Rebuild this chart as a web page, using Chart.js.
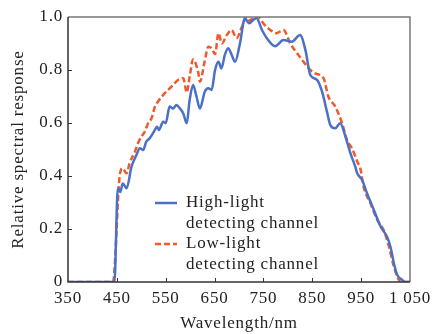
<!DOCTYPE html>
<html>
<head>
<meta charset="utf-8">
<script src="https://cdn.jsdelivr.net/npm/chart.js@4.4.0/dist/chart.umd.min.js"></script>
<style>
    html, body { margin: 0; padding: 0; background: #fff; }
    #spectrum { display: block; }
</style>
</head>
<body>
<canvas id="spectrum" width="438" height="334"></canvas>
<script>
// =========================
// Data
// =========================

const seriesNames = ["High-light\ndetecting channel", "Low-light\ndetecting channel"];

const highWavelength = [350, 441, 445, 452, 457, 462, 470, 480, 490, 497, 504, 510, 517, 528, 532, 536, 545, 550, 558, 565, 572, 579, 586, 593, 599, 606, 613, 620, 630, 637, 644, 651, 658, 664, 671, 678, 685, 692, 702, 712, 721, 729, 736, 747, 757, 774, 791, 808, 825, 836, 846, 860, 870, 880, 887, 897, 907, 918, 928, 938, 942, 952, 962, 976, 990, 1003, 1010, 1017, 1024, 1034, 1040, 1050];
const highResponse = [0, 0, 0, 0.354, 0.34, 0.372, 0.354, 0.435, 0.479, 0.505, 0.498, 0.529, 0.542, 0.574, 0.586, 0.574, 0.605, 0.599, 0.662, 0.655, 0.668, 0.655, 0.636, 0.599, 0.687, 0.743, 0.70, 0.655, 0.718, 0.731, 0.725, 0.80, 0.831, 0.806, 0.857, 0.882, 0.857, 0.831, 0.90, 0.995, 0.976, 0.989, 0.995, 0.951, 0.92, 0.89, 0.913, 0.907, 0.932, 0.875, 0.781, 0.762, 0.718, 0.643, 0.592, 0.58, 0.599, 0.548, 0.486, 0.435, 0.41, 0.385, 0.335, 0.272, 0.209, 0.171, 0.133, 0.071, 0.026, 0.008, 0, 0];

const lowWavelength = [350, 442, 456, 462, 470, 476, 487, 493, 500, 507, 514, 521, 528, 534, 545, 555, 565, 575, 586, 593, 599, 606, 617, 620, 630, 637, 644, 651, 658, 665, 675, 685, 695, 706, 716, 723, 729, 740, 750, 764, 777, 791, 805, 819, 832, 846, 856, 873, 883, 897, 911, 921, 931, 942, 949, 955, 969, 983, 996, 1007, 1017, 1024, 1031, 1050];
const lowResponse = [0, 0, 0.404, 0.429, 0.41, 0.448, 0.492, 0.523, 0.548, 0.567, 0.599, 0.618, 0.662, 0.68, 0.706, 0.725, 0.743, 0.762, 0.769, 0.715, 0.775, 0.84, 0.787, 0.756, 0.835, 0.888, 0.882, 0.86, 0.939, 0.9, 0.932, 0.951, 0.92, 0.963, 1.0, 0.985, 1.0, 1.0, 0.975, 0.951, 0.939, 0.951, 0.9, 0.863, 0.831, 0.8, 0.787, 0.769, 0.699, 0.662, 0.599, 0.536, 0.505, 0.455, 0.423, 0.36, 0.297, 0.234, 0.196, 0.133, 0.058, 0.02, 0, 0];

const xTicks = [350, 450, 550, 650, 750, 850, 950, 1050];
const yTicks = [0, 0.2, 0.4, 0.6, 0.8, 1.0];

// =========================
// Helpers
// =========================

const FONT = "'Liberation Serif', 'Times New Roman', serif";
const TEXT = "#222";

function toPoints(xs, ys) {
    return xs.map((x, i) => ({ x: x, y: ys[i] }));
}

// spaced digits like "1 050"
function xLabel(v) {
    return v >= 1000 ? String(v).replace(/^(\d)(\d{3})$/, "$1 $2") : String(v);
}

// frame, inward ticks, letter spacing and the legend
const figurePlugin = {
    id: "figure",
    beforeDraw(chart) {
        chart.ctx.letterSpacing = "0.8px";
    },
    afterDraw(chart) {
        const c = chart.ctx;
        const a = chart.chartArea;
        const xs = chart.scales.x;
        const ys = chart.scales.y;

        c.save();

        // box
        c.strokeStyle = "#777";
        c.lineWidth = 1.5;
        c.beginPath();
        c.moveTo(a.left, a.top);
        c.lineTo(a.right, a.top);
        c.lineTo(a.right, a.bottom);
        c.stroke();

        c.strokeStyle = "#333";
        c.beginPath();
        c.moveTo(a.left, a.top);
        c.lineTo(a.left, a.bottom);
        c.lineTo(a.right, a.bottom);
        c.stroke();

        // inward tick marks
        c.lineWidth = 1;
        c.beginPath();
        xTicks.slice(1, -1).forEach(v => {
            const px = Math.round(xs.getPixelForValue(v)) + 0.5;
            c.moveTo(px, a.bottom);
            c.lineTo(px, a.bottom - 4);
        });
        yTicks.slice(1, -1).forEach(v => {
            const py = Math.round(ys.getPixelForValue(v)) + 0.5;
            c.moveTo(a.left, py);
            c.lineTo(a.left + 4, py);
        });
        c.stroke();

        // legend
        c.font = "17px " + FONT;
        c.fillStyle = TEXT;
        c.textBaseline = "middle";
        c.textAlign = "left";

        const rows = [203, 244];
        chart.data.datasets.forEach((ds, i) => {
            const y = rows[i];
            c.strokeStyle = ds.borderColor;
            c.lineWidth = ds.borderWidth;
            c.setLineDash(ds.borderDash || []);
            c.beginPath();
            c.moveTo(155, y);
            c.lineTo(177, y);
            c.stroke();
            c.setLineDash([]);

            seriesNames[i].split("\n").forEach((line, j) => {
                c.fillText(line, 186, y + j * 21);
            });
        });

        c.restore();
    }
};

// =========================
// Chart
// =========================

const ctx = document.getElementById("spectrum");

const chart = new Chart(ctx, {
    type: "line",
    data: {
        datasets: [{
            label: seriesNames[0],
            data: toPoints(highWavelength, highResponse),
            borderColor: "#4a70c8",
            borderWidth: 2.5,
            pointRadius: 0,
            cubicInterpolationMode: "monotone",
            fill: false
        }, {
            label: seriesNames[1],
            data: toPoints(lowWavelength, lowResponse),
            borderColor: "#f2582a",
            borderWidth: 2.5,
            borderDash: [6, 3],
            pointRadius: 0,
            cubicInterpolationMode: "monotone",
            fill: false
        }]
    },
    options: {
        responsive: false,
        animation: false,
        layout: {
            padding: { top: 17, right: 28, left: 0, bottom: 0 }
        },
        plugins: {
            legend: { display: false },
            tooltip: { enabled: false }
        },
        scales: {
            x: {
                type: "linear",
                min: 350,
                max: 1050,
                afterBuildTicks: s => { s.ticks = xTicks.map(v => ({ value: v })); },
                afterFit: s => { s.height = 52; },
                grid: { display: false, drawTicks: false },
                border: { display: false },
                ticks: {
                    callback: v => xLabel(v),
                    color: TEXT,
                    font: { family: FONT, size: 17 },
                    padding: 6,
                    maxRotation: 0,
                    autoSkip: false
                },
                title: {
                    display: true,
                    text: "Wavelength/nm",
                    color: TEXT,
                    font: { family: FONT, size: 17 },
                    padding: { top: 0, bottom: 0 }
                }
            },
            y: {
                min: 0,
                max: 1,
                afterBuildTicks: s => { s.ticks = yTicks.map(v => ({ value: v })); },
                afterFit: s => { s.width = 68; },
                grid: { display: false, drawTicks: false },
                border: { display: false },
                ticks: {
                    callback: v => (v === 0 ? "0" : v.toFixed(1)),
                    color: TEXT,
                    font: { family: FONT, size: 17 },
                    padding: 5
                },
                title: {
                    display: true,
                    text: "Relative spectral response",
                    color: TEXT,
                    font: { family: FONT, size: 17 },
                    padding: { top: 8, bottom: 8 }
                }
            }
        }
    },
    plugins: [figurePlugin]
});
</script>
</body>
</html>
